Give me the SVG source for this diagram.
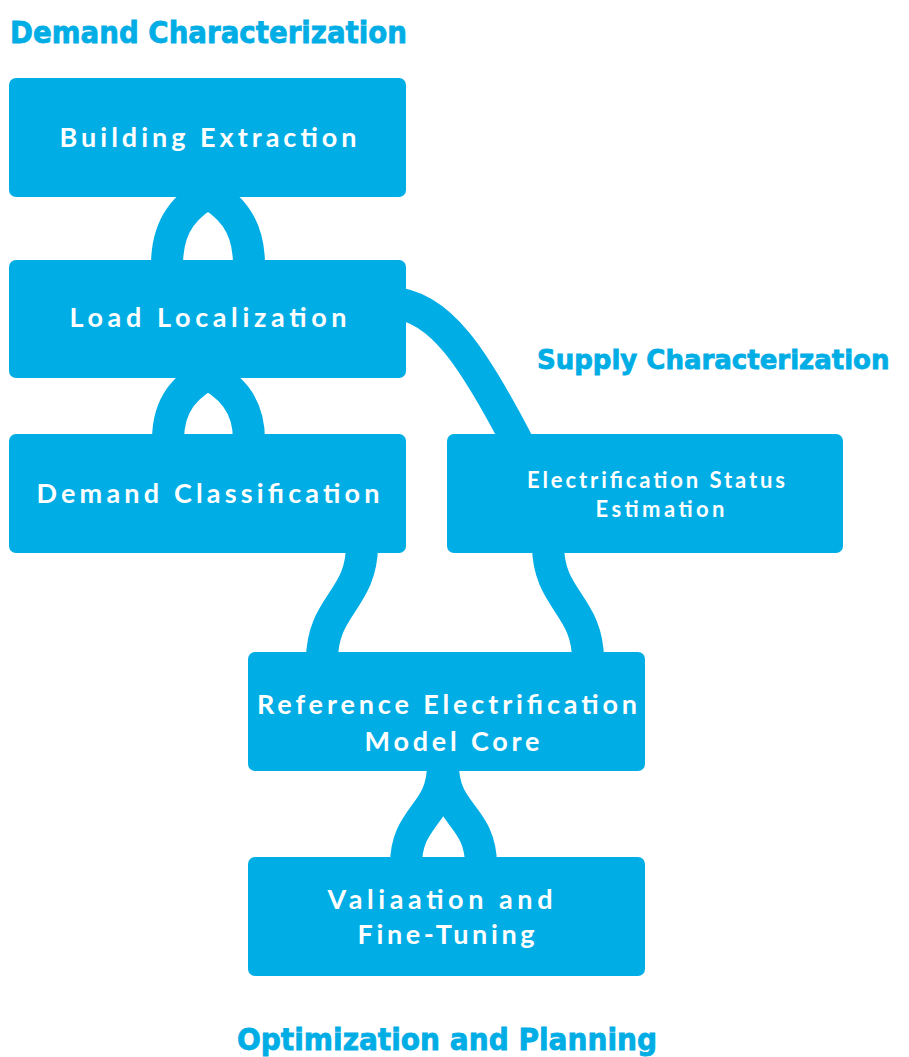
<svg xmlns="http://www.w3.org/2000/svg" width="909" height="1057" viewBox="0 0 909 1057">
<style>
.box{fill:#00ADE5;}
.lbl{fill:#ffffff;font-family:Lato,"Noto Sans",sans-serif;font-weight:700;font-size:27px;text-anchor:middle;}
.lbl2{fill:#ffffff;font-family:Lato,"Noto Sans",sans-serif;font-weight:700;font-size:22px;text-anchor:middle;}
.ttl{fill:#00ADE5;stroke:#00ADE5;stroke-width:0.8;font-family:"DejaVu Sans",sans-serif;font-weight:700;font-size:30px;}
.ttl2{fill:#00ADE5;stroke:#00ADE5;stroke-width:0.8;font-family:"DejaVu Sans",sans-serif;font-weight:700;font-size:26px;}
.con{fill:none;stroke:#00ADE5;stroke-width:32;stroke-linecap:butt;}
</style>
<rect width="909" height="1057" fill="#ffffff"/>
<g id="titles">
<text class="ttl" x="10" y="43" textLength="397" lengthAdjust="spacingAndGlyphs">Demand Characterization</text>
<text class="ttl2" x="537" y="369">Supply Characterization</text>
<text class="ttl" x="237" y="1050" textLength="420" lengthAdjust="spacingAndGlyphs">Optimization and Planning</text>
</g>
<g id="connectors">
<path class="con" d="M 217 188 C 185 204, 167 225, 167 265"/>
<path class="con" d="M 199 188 C 231 204, 249 225, 249 265"/>
<path class="con" d="M 217 369 C 185 385, 168 404, 168 440"/>
<path class="con" d="M 199 369 C 231 385, 249 404, 249 440"/>
<path class="con" d="M 392 303 C 440 305, 475 360, 519 445"/>
<path class="con" d="M 362 545 C 362 600, 322 605, 322 660"/>
<path class="con" d="M 548 545 C 548 600, 588 605, 588 660"/>
<path class="con" d="M 443 765 C 443 815, 406 815, 406 865"/>
<path class="con" d="M 443 765 C 443 815, 481 815, 481 865"/>
</g>
<g id="n1">
<rect class="box" x="9" y="78" width="397" height="119" rx="7"/>
<text class="lbl" x="208" y="147" textLength="297" lengthAdjust="spacing">Building Extraction</text>
</g>
<g id="n2">
<rect class="box" x="9" y="260" width="397" height="118" rx="7"/>
<text class="lbl" x="208" y="327" textLength="277" lengthAdjust="spacing">Load Localization</text>
</g>
<g id="n3">
<rect class="box" x="9" y="434" width="397" height="119" rx="7"/>
<text class="lbl" x="208" y="503" textLength="343" lengthAdjust="spacing">Demand Classification</text>
</g>
<g id="n4">
<rect class="box" x="447" y="434" width="396" height="119" rx="7"/>
<text class="lbl2" x="656" y="488" textLength="258" lengthAdjust="spacing">Electrification Status</text>
<text class="lbl2" x="660" y="517" textLength="129" lengthAdjust="spacing">Estimation</text>
</g>
<g id="n5">
<rect class="box" x="248" y="652" width="397" height="119" rx="7"/>
<text class="lbl" x="447" y="714" textLength="380" lengthAdjust="spacing">Reference Electrification</text>
<text class="lbl" x="452" y="751" textLength="175" lengthAdjust="spacing">Model Core</text>
</g>
<g id="n6">
<rect class="box" x="248" y="857" width="397" height="119" rx="7"/>
<text class="lbl" x="440" y="909" textLength="225" lengthAdjust="spacing">Valiaation and</text>
<text class="lbl" x="446" y="944" textLength="177" lengthAdjust="spacing">Fine-Tuning</text>
</g>
</svg>
